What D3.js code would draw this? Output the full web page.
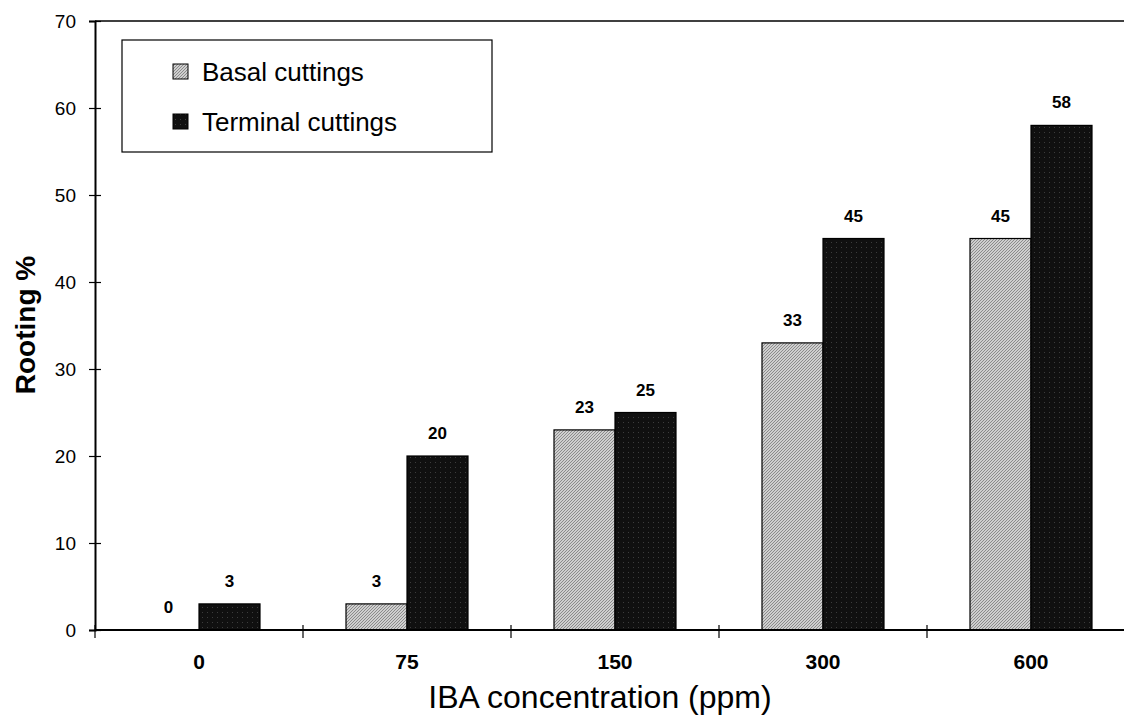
<!DOCTYPE html>
<html><head><meta charset="utf-8">
<script src="https://cdn.jsdelivr.net/npm/d3@7"></script>
<style>
html,body{margin:0;padding:0;background:#fff;}
svg{display:block;font-family:"Liberation Sans",Arial,Helvetica,sans-serif;}
</style></head>
<body><svg id="c" width="1124" height="719"></svg>
<script>
const categories = ["0","75","150","300","600"];
const seriesNames = ["Basal cuttings","Terminal cuttings"];
const basal = [0,3,23,33,45];
const terminal = [3,20,25,45,58];
const yTicks = [0,10,20,30,40,50,60,70];

const svg = d3.select("#c");
const defs = svg.append("defs");
const pb = defs.append("pattern").attr("id","basalPat").attr("patternUnits","userSpaceOnUse")
  .attr("width",3).attr("height",3);
pb.append("rect").attr("width",3).attr("height",3).attr("fill","#cfcfcf");
pb.append("path").attr("d","M0,3 L3,0 M-1,1 L1,-1 M2,4 L4,2").attr("stroke","#7a7a7a").attr("stroke-width",0.8);
const pt = defs.append("pattern").attr("id","termPat").attr("patternUnits","userSpaceOnUse")
  .attr("width",5).attr("height",5);
pt.append("rect").attr("width",5).attr("height",5).attr("fill","#101010");
pt.append("rect").attr("x",2).attr("y",2).attr("width",1).attr("height",1).attr("fill","#3c3c3c");

const x0 = 95, yBase = 630, yTop = 21;
const x = d3.scaleBand().domain(categories).range([x0, x0 + 5*208]).padding(0);
const xs = d3.scaleBand().domain(seriesNames).range([x.bandwidth()/2 - 61, x.bandwidth()/2 + 61]).padding(0);
const y = d3.scaleLinear().domain([0,70]).range([yBase, yTop]);

const data = categories.map((c,i)=>({c, vals:[{s:seriesNames[0],v:basal[i]},{s:seriesNames[1],v:terminal[i]}]}));
const fills = {"Basal cuttings":"url(#basalPat)","Terminal cuttings":"url(#termPat)"};

// bars
const g = svg.append("g");
g.selectAll("g.grp").data(data).join("g").attr("class","grp")
  .attr("transform",d=>`translate(${x(d.c)},0)`)
  .each(function(d){
    const gg = d3.select(this);
    gg.selectAll("rect").data(d.vals.filter(e=>e.v>0)).join("rect")
      .attr("x",e=>xs(e.s)).attr("width",xs.bandwidth())
      .attr("y",e=>y(e.v)).attr("height",e=>y(0)-y(e.v))
      .attr("fill",e=>fills[e.s]).attr("stroke","#000").attr("stroke-width",1.2);
    gg.selectAll("text").data(d.vals).join("text")
      .attr("x",e=>xs(e.s)+xs.bandwidth()/2).attr("y",e=>y(e.v)-17)
      .attr("text-anchor","middle").attr("font-size",17).attr("font-weight","bold").attr("fill","#000")
      .text(e=>e.v);
  });

// top border
svg.append("line").attr("x1",x0).attr("x2",1124).attr("y1",yTop).attr("y2",yTop).attr("stroke","#000").attr("stroke-width",1.5);

// y axis
const ya = svg.append("g").attr("transform",`translate(${x0},0)`)
  .call(d3.axisLeft(y).tickValues(yTicks).tickSize(6).tickPadding(13));
ya.select(".domain").attr("stroke-width",2);
ya.selectAll(".tick line").attr("x1",-6).attr("x2",6).attr("stroke-width",1.2);
ya.selectAll(".tick text").attr("font-size",19).attr("fill","#000").attr("font-family","Liberation Sans,Arial,sans-serif");

// x axis
const xa = svg.append("g").attr("transform",`translate(0,${yBase})`)
  .call(d3.axisBottom(x).tickSize(0).tickPadding(24));
xa.select(".domain").attr("d",`M${x0},0H1124`).attr("stroke-width",2);
xa.selectAll(".tick text").attr("font-size",21).attr("font-weight","bold").attr("fill","#000").attr("font-family","Liberation Sans,Arial,sans-serif");
const bounds = categories.map(c=>x(c));
svg.append("g").selectAll("line").data(bounds).join("line")
  .attr("x1",d=>d).attr("x2",d=>d).attr("y1",yBase-5).attr("y2",yBase+8)
  .attr("stroke","#000").attr("stroke-width",1.2);

// axis titles
svg.append("text").attr("transform","translate(35,325) rotate(-90)").attr("text-anchor","middle")
  .attr("font-size",28).attr("font-weight","bold").text("Rooting %");
svg.append("text").attr("x",600).attr("y",708).attr("text-anchor","middle")
  .attr("font-size",32).text("IBA concentration (ppm)");

// legend
const lg = svg.append("g");
lg.append("rect").attr("x",122).attr("y",40).attr("width",370).attr("height",112)
  .attr("fill","#fff").attr("stroke","#000").attr("stroke-width",1.2);
const items = lg.selectAll("g.it").data(seriesNames).join("g").attr("class","it")
  .attr("transform",(d,i)=>`translate(173,${72+i*50})`);
items.append("rect").attr("y",-8).attr("width",15).attr("height",15).attr("fill",d=>fills[d]).attr("stroke","#000").attr("stroke-width",1);
items.append("text").attr("x",29).attr("y",9).attr("font-size",26).text(d=>d);
</script></body></html>
